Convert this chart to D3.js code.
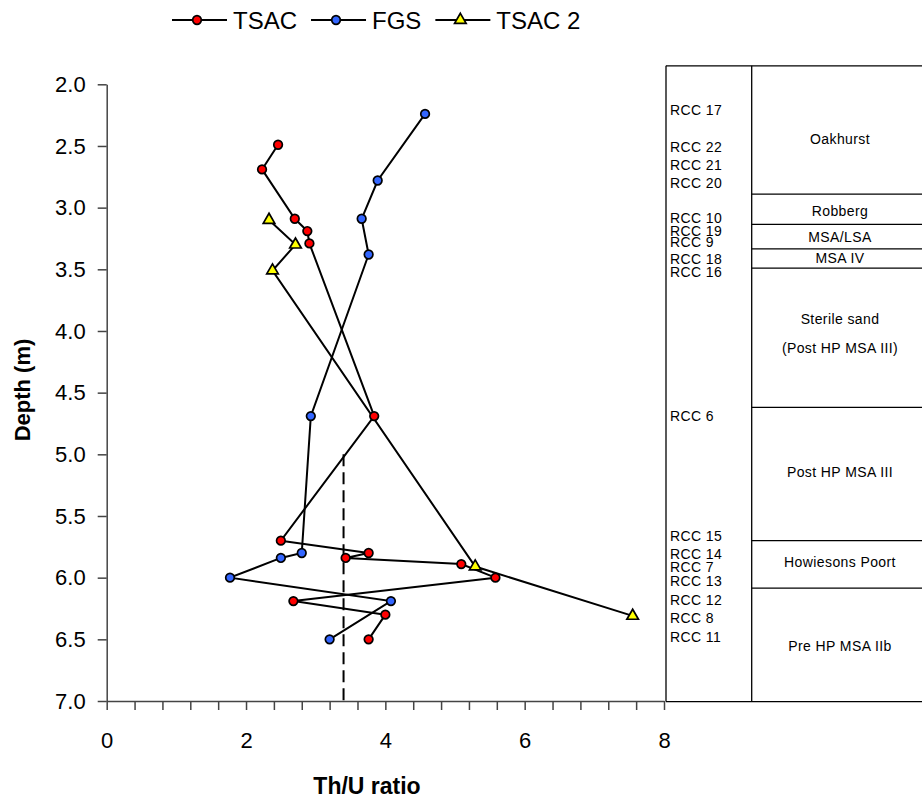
<!DOCTYPE html>
<html lang="en">
<head>
<meta charset="UTF-8">
<title>Th/U ratio vs depth</title>
<style>
  body { margin: 0; background: #fff; }
  svg { display: block; background: #fff; }
  text { font-family: "Liberation Sans", Arial, sans-serif; fill: #000; }
  .axis path, .axis line { stroke: #444; stroke-width: 1.5px; }
  .axis text { font-size: 22px; }
  .table line { stroke: #000; stroke-width: 1.3px; }
  .table text { font-size: 14px; letter-spacing: 0.4px; }
</style>
</head>
<body>
<svg width="922" height="800"></svg>
<script src="https://cdn.jsdelivr.net/npm/d3@7/dist/d3.min.js"></script>
<script>
// series values (depth in m, Th/U ratio)
const tsacDepth  = [2.49, 2.69, 3.09, 3.19, 3.29, 4.69, 5.70, 5.80, 5.84, 5.89, 6.00, 6.19, 6.30, 6.50];
const tsacRatio  = [2.46, 2.23, 2.70, 2.88, 2.91, 3.84, 2.50, 3.76, 3.43, 5.09, 5.58, 2.68, 4.00, 3.76];
const fgsDepth   = [2.24, 2.78, 3.09, 3.38, 4.69, 5.80, 5.84, 6.00, 6.19, 6.50];
const fgsRatio   = [4.57, 3.89, 3.66, 3.76, 2.93, 2.80, 2.50, 1.77, 4.08, 3.20];
const tsac2Depth = [3.10, 3.30, 3.51, 5.91, 6.31];
const tsac2Ratio = [2.33, 2.71, 2.38, 5.29, 7.55];

const seriesNames = ["TSAC", "FGS", "TSAC 2"];

// reference line
const refRatio = 3.4;
const refDepth = [5.0, 7.03];

// axes
const yTicks = [2.0, 2.5, 3.0, 3.5, 4.0, 4.5, 5.0, 5.5, 6.0, 6.5, 7.0];
const xTickLabels = [0, 2, 4, 6, 8];

// stratigraphic column
const sampleNames  = ["RCC 17", "RCC 22", "RCC 21", "RCC 20", "RCC 10", "RCC 19", "RCC 9", "RCC 18", "RCC 16",
                      "RCC 6", "RCC 15", "RCC 14", "RCC 7", "RCC 13", "RCC 12", "RCC 8", "RCC 11"];
const sampleDepths = [2.21, 2.51, 2.65, 2.80, 3.08, 3.19, 3.28, 3.42, 3.52,
                      4.69, 5.66, 5.81, 5.91, 6.03, 6.18, 6.33, 6.48];
const unitBounds   = [2.89, 3.135, 3.335, 3.49, 4.62, 5.70, 6.085];
const unitNames    = ["Oakhurst", "Robberg", "MSA/LSA", "MSA IV", "Sterile sand", "(Post HP MSA III)",
                      "Post HP MSA III", "Howiesons Poort", "Pre HP MSA IIb"];
const unitDepths   = [2.44, 3.03, 3.24, 3.41, 3.905, 4.14, 5.147, 5.876, 6.551];
const columnTop = 1.85, columnBottom = 7.005;

const svg = d3.select("svg");

const x = d3.scaleLinear().domain([0, 8]).range([106.7, 664]);
const y = d3.scaleLinear().domain([2, 7]).range([84.3, 701]);

// axes
svg.append("g")
  .attr("class", "axis")
  .attr("transform", "translate(0,701)")
  .call(d3.axisBottom(x)
    .tickValues(d3.range(0, 21).map(i => i * 0.4))
    .tickSize(9).tickSizeOuter(0).tickPadding(22)
    .tickFormat(d => xTickLabels.includes(Math.round(d * 10) / 10) ? d3.format("d")(d) : ""));

svg.append("g")
  .attr("class", "axis")
  .attr("transform", "translate(106.7,0)")
  .call(d3.axisLeft(y)
    .tickValues(yTicks)
    .tickSize(9).tickSizeOuter(0).tickPadding(12)
    .tickFormat(d3.format(".1f")));

svg.selectAll(".axis text").attr("fill", "#000");

svg.append("text")
  .attr("transform", "translate(30,390) rotate(-90)")
  .attr("text-anchor", "middle")
  .style("font-size", "22px").style("font-weight", "bold")
  .text("Depth (m)");

svg.append("text")
  .attr("x", 367).attr("y", 794)
  .attr("text-anchor", "middle")
  .style("font-size", "23px").style("font-weight", "bold")
  .text("Th/U ratio");

// dashed reference line
svg.append("line")
  .attr("x1", x(refRatio)).attr("x2", x(refRatio))
  .attr("y1", y(refDepth[0])).attr("y2", y(refDepth[1]))
  .attr("stroke", "#000").attr("stroke-width", 2)
  .attr("stroke-dasharray", "12,6");

// series
const series = [
  { name: seriesNames[0], depth: tsacDepth,  ratio: tsacRatio,  fill: "#ff0000", shape: "circle" },
  { name: seriesNames[1], depth: fgsDepth,   ratio: fgsRatio,   fill: "#3366ff", shape: "circle" },
  { name: seriesNames[2], depth: tsac2Depth, ratio: tsac2Ratio, fill: "#ffff00", shape: "triangle" }
];
series.forEach(s => { s.points = s.depth.map((d, i) => ({ d: d, r: s.ratio[i] })); });

const line = d3.line().x(p => x(p.r)).y(p => y(p.d));

function drawMarker(g, s) {
  if (s.shape === "circle") {
    g.append("circle").attr("r", 4.3)
      .attr("fill", s.fill).attr("stroke", "#000").attr("stroke-width", 1.7);
  } else {
    g.append("path").attr("d", d3.symbol(d3.symbolTriangle, 58)())
      .attr("fill", s.fill).attr("stroke", "#000").attr("stroke-width", 1.7);
  }
}

series.forEach(s => {
  svg.append("path")
    .datum(s.points)
    .attr("d", line)
    .attr("fill", "none")
    .attr("stroke", "#000")
    .attr("stroke-width", 2);
});

series.forEach(s => {
  svg.append("g").selectAll("g")
    .data(s.points)
    .join("g")
    .attr("transform", p => `translate(${x(p.r)},${y(p.d)})`)
    .each(function() { drawMarker(d3.select(this), s); });
});

// legend
let lx = 172;
const ly = 20;
series.forEach(s => {
  const g = svg.append("g");
  g.append("line")
    .attr("x1", lx).attr("x2", lx + 55).attr("y1", ly).attr("y2", ly)
    .attr("stroke", "#000").attr("stroke-width", 2);
  const m = g.append("g").attr("transform", `translate(${lx + 25},${ly})`);
  drawMarker(m, s);
  const t = g.append("text")
    .attr("x", lx + 61).attr("y", ly + 8.5)
    .style("font-size", "24px")
    .text(s.name);
  lx += 61 + t.node().getComputedTextLength() + 14;
});

// stratigraphic column
const table = svg.append("g").attr("class", "table");
const left = 666, mid = 751.7, right = 922;

table.append("line").attr("x1", left).attr("x2", right).attr("y1", y(columnTop)).attr("y2", y(columnTop));
table.append("line").attr("x1", left).attr("x2", right).attr("y1", y(columnBottom)).attr("y2", y(columnBottom));
table.append("line").attr("x1", left).attr("x2", left).attr("y1", y(columnTop)).attr("y2", y(columnBottom));
table.append("line").attr("x1", mid).attr("x2", mid).attr("y1", y(columnTop)).attr("y2", y(columnBottom));

table.selectAll(".bound")
  .data(unitBounds)
  .join("line")
  .attr("class", "bound")
  .attr("x1", mid).attr("x2", right)
  .attr("y1", d => y(d)).attr("y2", d => y(d));

table.selectAll(".sample")
  .data(sampleNames)
  .join("text")
  .attr("class", "sample")
  .attr("x", 670)
  .attr("y", (d, i) => y(sampleDepths[i]))
  .attr("dy", "0.36em")
  .text(d => d);

table.selectAll(".unit")
  .data(unitNames)
  .join("text")
  .attr("class", "unit")
  .attr("x", 840)
  .attr("y", (d, i) => y(unitDepths[i]))
  .attr("dy", "0.36em")
  .attr("text-anchor", "middle")
  .text(d => d);
</script>
</body>
</html>
